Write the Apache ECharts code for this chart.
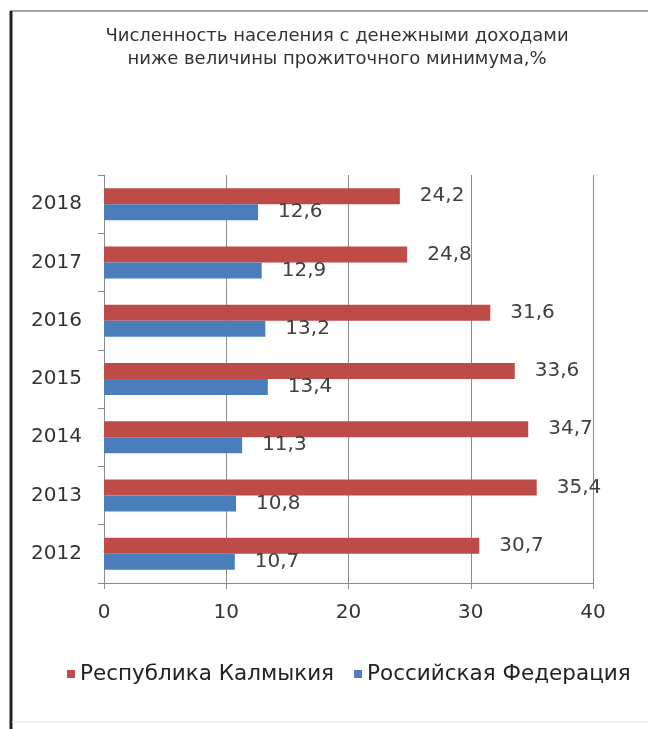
<!DOCTYPE html>
<html>
<head>
<meta charset="utf-8">
<script src="https://cdn.jsdelivr.net/npm/echarts@6/dist/echarts.min.js"></script>
<style>
  html, body { margin: 0; padding: 0; background: #fff; }
  #chart { width: 648px; height: 729px; }
</style>
</head>
<body>
<div id="chart"></div>
<script>
// годы (снизу вверх)
const years = ['2012', '2013', '2014', '2015', '2016', '2017', '2018'];
// Республика Калмыкия, %
const kalmykia = [30.7, 35.4, 34.7, 33.6, 31.6, 24.8, 24.2];
// Российская Федерация, %
const russia = [10.7, 10.8, 11.3, 13.4, 13.2, 12.9, 12.6];
const xTicks = [0, 10, 20, 30, 40];

const font = '"DejaVu Sans", sans-serif';
const gridColor = '#8c8c8c';

const chart = echarts.init(document.getElementById('chart'));

const labelCfg = {
  show: true,
  position: 'right',
  distance: 20,
  color: '#404040',
  fontFamily: font,
  fontSize: 20,
  formatter: p => String(p.value).replace('.', ',')
};

chart.setOption({
  animation: false,
  backgroundColor: '#fff',
  title: {
    text: 'Численность населения с денежными доходами\nниже величины прожиточного минимума,%',
    left: 332,
    textAlign: 'center',
    top: 20,
    textStyle: {
      fontFamily: font,
      fontSize: 18,
      fontWeight: 'normal',
      color: '#333',
      lineHeight: 23
    }
  },
  legend: {
    data: ['Республика Калмыкия', 'Российская Федерация'],
    left: 62,
    top: 658,
    itemWidth: 8,
    itemHeight: 8,
    itemGap: 20,
    icon: 'rect',
    textStyle: { fontFamily: font, fontSize: 21.5, color: '#222' }
  },
  grid: { left: 104, right: 55, top: 175, bottom: 146 },
  xAxis: {
    type: 'value',
    min: xTicks[0],
    max: xTicks[xTicks.length - 1],
    interval: 10,
    axisLine: { show: true, lineStyle: { color: gridColor } },
    axisTick: { show: true, length: 6, lineStyle: { color: gridColor } },
    axisLabel: { fontFamily: font, fontSize: 20, color: '#333', margin: 20 },
    splitLine: { show: true, lineStyle: { color: gridColor, width: 1 } }
  },
  yAxis: {
    type: 'category',
    data: years,
    axisLine: { show: true, lineStyle: { color: gridColor } },
    axisTick: { show: true, length: 6, lineStyle: { color: gridColor } },
    axisLabel: { fontFamily: font, fontSize: 20, color: '#333', margin: 22 },
    splitLine: { show: false }
  },
  series: [
    {
      name: 'Республика Калмыкия',
      type: 'bar',
      data: kalmykia,
      barWidth: 16,
      barGap: '0%',
      itemStyle: { color: '#be4b48' },
      label: labelCfg
    },
    {
      name: 'Российская Федерация',
      type: 'bar',
      data: russia,
      barWidth: 16,
      barGap: '0%',
      itemStyle: { color: '#4a7ebb' },
      label: labelCfg
    }
  ],
  graphic: [
    { type: 'line', shape: { x1: 10, y1: 11, x2: 648, y2: 11 }, style: { stroke: '#a6a6a6', lineWidth: 2 } },
    { type: 'line', shape: { x1: 11, y1: 11, x2: 11, y2: 729 }, style: { stroke: '#222', lineWidth: 3 } },
    { type: 'line', shape: { x1: 12, y1: 722, x2: 648, y2: 722 }, style: { stroke: '#e6e6e6', lineWidth: 1 } }
  ]
});

window.onresize = () => {
  chart.resize();
};
</script>
</body>
</html>
